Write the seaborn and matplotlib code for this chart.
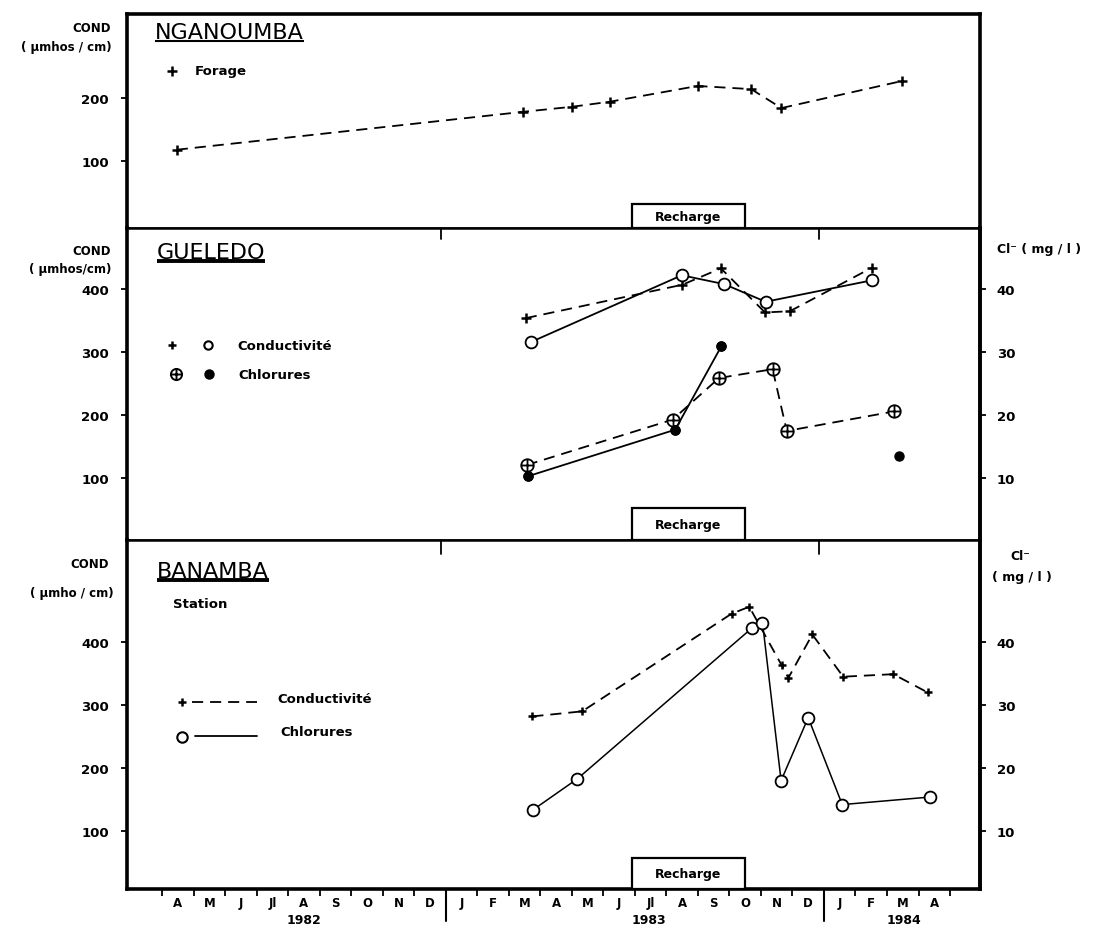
import numpy as np
import pandas as pd
import matplotlib
matplotlib.use("Agg")
import matplotlib.pyplot as plt
import seaborn as sns
from matplotlib.path import Path
from matplotlib.patches import Rectangle
from matplotlib.transforms import blended_transform_factory

# ---------------- data (x = months since 1 Jan 1982) ----------------
month_labels = ["A", "M", "J", "Jl", "A", "S", "O", "N", "D",
                "J", "F", "M", "A", "M", "J", "Jl", "A", "S", "O", "N", "D",
                "J", "F", "M", "A"]
month_starts = list(range(3, 29))
year_labels = ["1982", "1983", "1984"]
year_label_pos = [7.5, 18.45, 26.55]
year_breaks = [12, 24]
recharge_span = [17.9, 21.5]

# NGANOUMBA - Forage (conductivity)
ngan_x = [3.47, 14.45, 16.0, 17.2, 19.99, 21.69, 22.65, 26.49]
ngan_cond = [118, 178, 186, 194, 219, 214, 184, 227]

# GUELEDO
gue_cond_a_x = [14.54, 19.51, 20.73, 22.13, 22.92, 25.52]
gue_cond_a = [354, 407, 433, 363, 365, 434]
gue_cond_b_x = [14.70, 19.49, 20.83, 22.15, 25.52]
gue_cond_b = [316, 422, 408, 380, 414]
gue_cl_a_x = [14.57, 19.2, 20.67, 22.37, 22.82, 26.23]
gue_cl_a = [12.1, 19.3, 25.9, 27.3, 17.5, 20.6]
gue_cl_b_x = [14.6, 19.28, 20.74, 26.39]
gue_cl_b = [10.3, 17.7, 30.9, 13.6]

# BANAMBA - Station
ban_cond_x = [14.75, 16.33, 21.07, 21.63, 22.66, 22.87, 23.63, 24.61, 26.2, 27.29]
ban_cond = [282, 290, 445, 456, 363, 343, 412, 345, 349, 320]
ban_cl_x = [14.78, 16.18, 21.71, 22.05, 22.64, 23.5, 24.58, 27.37]
ban_cl = [13.4, 18.3, 42.2, 43.1, 18.0, 28.0, 14.2, 15.4]

# ---------------- style ----------------
sns.set_style("ticks")
plt.rcParams['font.family'] = ['DejaVu Sans']
plt.rcParams['lines.scale_dashes'] = False
plt.rcParams['axes.edgecolor'] = 'black'
plt.rcParams['text.color'] = 'black'
plt.rcParams['xtick.color'] = 'black'
plt.rcParams['ytick.color'] = 'black'
plt.rcParams['axes.labelcolor'] = 'black'

W, H = 1100, 929
fig = plt.figure(figsize=(11, 9.29), dpi=100)
L, R = 127, 980
panels = [(15, 229), (229, 541), (541, 890)]
XMIN, XMAX = 1.89, 28.95
ylims = [(-6, 333), (2, 497), (8, 562)]
DASH = (0, (8, 5))

circ = Path.unit_circle()
oplus = Path(list(circ.vertices) + [(-1, 0), (1, 0), (0, -1), (0, 1)],
             list(circ.codes) + [Path.MOVETO, Path.LINETO, Path.MOVETO, Path.LINETO])

axes = []
for (top, bot), yl in zip(panels, ylims):
    ax = fig.add_axes([L / W, 1 - bot / H, (R - L) / W, (bot - top) / H])
    ax.set_xlim(XMIN, XMAX)
    ax.set_ylim(*yl)
    for sp in ax.spines.values():
        sp.set_visible(True)
        sp.set_linewidth(1.8)
        sp.set_color('black')
    ax.spines['left'].set_linewidth(2.6)
    ax.spines['right'].set_linewidth(2.6)
    ax.tick_params(axis='y', direction='out', length=4, width=1.3, pad=9,
                   labelsize=9.5, left=True, right=False, colors='black')
    ax.tick_params(axis='x', bottom=False, top=False, labelbottom=False)
    axes.append(ax)
axes[0].spines['top'].set_linewidth(2.6)
axes[2].spines['bottom'].set_linewidth(2.6)


def line(ax, x, y, ls, marker, ms, mfc='black', mew=1.5, lw=1.3, z=3):
    sns.lineplot(x=x, y=y, ax=ax, color='black', linestyle=ls, linewidth=lw,
                 marker=marker, markersize=ms, markerfacecolor=mfc,
                 markeredgecolor='black', markeredgewidth=mew,
                 sort=False, estimator=None, legend=False, zorder=z)


def points(ax, x, y, marker, ms, mfc='black', mew=1.5, z=4):
    sns.lineplot(x=x, y=y, ax=ax, color='black', linestyle='none',
                 marker=marker, markersize=ms, markerfacecolor=mfc,
                 markeredgecolor='black', markeredgewidth=mew,
                 sort=False, estimator=None, legend=False, zorder=z)


def recharge(ax, h_px, panel_h):
    tr = blended_transform_factory(ax.transData, ax.transAxes)
    hf = h_px / panel_h
    ax.add_patch(Rectangle((recharge_span[0], 0), recharge_span[1] - recharge_span[0], hf,
                           transform=tr, fc='white', ec='black', lw=1.6, zorder=5, clip_on=False))
    ax.text(sum(recharge_span) / 2, hf / 2, "Recharge", transform=tr, ha='center',
            va='center', fontsize=9, fontweight='bold', zorder=6)


def bold_yticks(ax, ticks):
    ax.set_yticks(ticks)
    ax.set_yticklabels([str(t) for t in ticks], fontweight='bold')


# ---------------- top panel: NGANOUMBA ----------------
ax0 = axes[0]
line(ax0, ngan_x, ngan_cond, DASH, '+', 7, mew=1.8)
bold_yticks(ax0, [100, 200])
recharge(ax0, 24, 214)
ax0.plot([0.0528], [0.734], transform=ax0.transAxes, marker='+', ms=7, mew=1.8, color='black')
ax0.text(0.0797, 0.734, "Forage", transform=ax0.transAxes, va='center', fontsize=9.5,
         fontweight='bold')

# ---------------- middle panel: GUELEDO ----------------
ax1 = axes[1]
ax1r = ax1.twinx()
ax1r.set_ylim(ylims[1][0] / 10, ylims[1][1] / 10)
line(ax1, gue_cond_a_x, gue_cond_a, DASH, '+', 7, mew=1.8)
line(ax1, gue_cond_b_x, gue_cond_b, '-', 'o', 8.5, mfc='white', mew=1.3, z=4)
line(ax1r, gue_cl_a_x, gue_cl_a, DASH, oplus, 9, mfc='white', mew=1.3)
line(ax1r, gue_cl_b_x[:3], gue_cl_b[:3], '-', 'o', 6.5, mew=1.0)
points(ax1r, gue_cl_b_x, gue_cl_b, 'o', 6.5, mew=1.0)
bold_yticks(ax1, [100, 200, 300, 400])
recharge(ax1, 32, 312)
ax1.plot([0.0528], [0.625], transform=ax1.transAxes, marker='+', ms=6, mew=1.8, color='black')
ax1.plot([0.095], [0.625], transform=ax1.transAxes, marker='o', ms=6, mfc='white', mec='black', mew=1.5)
ax1.text(0.129, 0.625, "Conductivité", transform=ax1.transAxes, va='center', fontsize=9.5,
         fontweight='bold')
ax1.plot([0.0574], [0.532], transform=ax1.transAxes, marker=oplus, ms=8, mfc='white', mec='black', mew=1.4)
ax1.plot([0.0962], [0.532], transform=ax1.transAxes, marker='o', ms=6.5, color='black')
ax1.text(0.130, 0.532, "Chlorures", transform=ax1.transAxes, va='center', fontsize=9.5,
         fontweight='bold')

# ---------------- bottom panel: BANAMBA ----------------
ax2 = axes[2]
ax2r = ax2.twinx()
ax2r.set_ylim(ylims[2][0] / 10, ylims[2][1] / 10)
line(ax2, ban_cond_x, ban_cond, DASH, '+', 6, mew=1.8)
line(ax2r, ban_cl_x, ban_cl, '-', 'o', 8.5, mfc='white', mew=1.3, lw=1.1)
bold_yticks(ax2, [100, 200, 300, 400])
recharge(ax2, 31, 349)
ax2.plot([0.0645], [0.535], transform=ax2.transAxes, marker='+', ms=6, mew=1.8, color='black')
ax2.plot([0.0762, 0.1524], [0.535, 0.535], transform=ax2.transAxes, ls=DASH, lw=1.3, color='black')
ax2.text(0.176, 0.545, "Conductivité", transform=ax2.transAxes, va='center', fontsize=9.5,
         fontweight='bold')
ax2.plot([0.0645], [0.4355], transform=ax2.transAxes, marker='o', ms=7.5, mfc='white', mec='black', mew=1.5)
ax2.plot([0.0797, 0.1524], [0.4385, 0.4385], transform=ax2.transAxes, ls='-', lw=1.3, color='black')
ax2.text(0.1794, 0.45, "Chlorures", transform=ax2.transAxes, va='center', fontsize=9.5,
         fontweight='bold')
ax2.text(0.054, 0.817, "Station", transform=ax2.transAxes, va='center', fontsize=9.5,
         fontweight='bold')

for axr in (ax1r, ax2r):
    for sp in axr.spines.values():
        sp.set_visible(False)
    axr.spines['right'].set_visible(True)
    axr.spines['right'].set_linewidth(2.6)
    axr.spines['right'].set_color('black')
    axr.set_yticks([10, 20, 30, 40])
    axr.set_yticklabels(['10', '20', '30', '40'], fontweight='bold')
    axr.tick_params(axis='y', direction='out', length=4, width=1.3, pad=8, labelsize=9.5,
                    right=True, left=False, colors='black')
    axr.tick_params(axis='x', bottom=False, labelbottom=False)
    axr.set_ylabel('')

# ---------------- x axis (bottom panel) ----------------
ax2.set_xticks(month_starts)
ax2.set_xticklabels([''] * len(month_starts))
ax2.set_xticks([m + 0.5 for m in month_starts[:-1]], minor=True)
ax2.set_xticklabels(month_labels, minor=True, fontweight='bold', fontsize=8.5)
ax2.tick_params(axis='x', which='major', bottom=True, direction='out', length=5, width=1.3,
                colors='black')
ax2.tick_params(axis='x', which='minor', bottom=True, length=0, pad=5, colors='black')
tr2 = blended_transform_factory(ax2.transData, ax2.transAxes)
for yb in year_breaks:
    ax2.plot([yb, yb], [0, -0.092], transform=tr2, color='black', lw=1.5, clip_on=False)
for lab, xp in zip(year_labels, year_label_pos):
    ax2.text(xp, -0.086, lab, transform=tr2, ha='center', va='center', fontsize=9,
             fontweight='bold')
# year marks at the top of the lower panels
for ax, frac in [(ax1, 11 / 312), (ax2, 14 / 349)]:
    for yb in year_breaks:
        ax.axvline(yb - 0.15, ymin=1 - frac, ymax=1, color='black', lw=1.3)

for ax in axes:
    ax.set_xlabel('')
    ax.set_ylabel('')

# ---------------- titles & axis labels ----------------
titles = [("NGANOUMBA", 0.916, 1.5), ("GUELEDO", 0.923, 2.8), ("BANAMBA", 0.911, 2.8)]
ttexts = []
for ax, (t, yy, ulw) in zip(axes, titles):
    ttexts.append(ax.text(0.0328 if t == "NGANOUMBA" else 0.035, yy, t, transform=ax.transAxes,
                          va='center', ha='left', fontsize=16, color='black'))

lab_kw = dict(ha='center', va='center', fontsize=8.5, fontweight='bold', color='black')
fig.text(92 / W, 1 - 28 / H, "COND", **lab_kw)
fig.text(66 / W, 1 - 47 / H, "( µmhos / cm)", **lab_kw)
fig.text(92 / W, 1 - 252 / H, "COND", **lab_kw)
fig.text(70 / W, 1 - 270 / H, "( µmhos/cm)", **lab_kw)
fig.text(90 / W, 1 - 565 / H, "COND", **lab_kw)
fig.text(72 / W, 1 - 593 / H, "( µmho / cm)", **lab_kw)
fig.text(997 / W, 1 - 250 / H, "Cl⁻ ( mg / l )", ha='left', va='center', fontsize=9,
         fontweight='bold', color='black')
fig.text(1020 / W, 1 - 557 / H, "Cl⁻", ha='center', va='center', fontsize=9, fontweight='bold',
         color='black')
fig.text(1022 / W, 1 - 577 / H, "( mg / l )", ha='center', va='center', fontsize=9,
         fontweight='bold', color='black')

fig.canvas.draw()
rend = fig.canvas.get_renderer()
for ax, txt, (t, yy, ulw) in zip(axes, ttexts, titles):
    bb = txt.get_window_extent(rend)
    inv = ax.transAxes.inverted()
    (x0, y0), (x1, y1) = inv.transform([(bb.x0, bb.y0 + 1), (bb.x1, bb.y0 + 1)])
    ax.plot([x0, x1], [y0, y0], transform=ax.transAxes, color='black', lw=ulw,
            solid_capstyle='butt')

fig.savefig("out.png", dpi=100)
